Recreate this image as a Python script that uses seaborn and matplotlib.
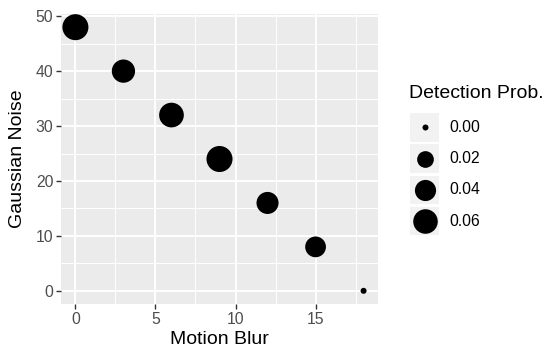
import numpy as np
import pandas as pd
import matplotlib
matplotlib.use("Agg")
import matplotlib.pyplot as plt
import seaborn as sns

motion_blur = [0, 3, 6, 9, 12, 15, 18]
gaussian_noise = [48, 40, 32, 24, 16, 8, 0]
detection_prob = [0.070, 0.052, 0.061, 0.070, 0.045, 0.038, 0.0]
legend_values = [0.00, 0.02, 0.04, 0.06]
legend_labels = ["0.00", "0.02", "0.04", "0.06"]
x_ticks = [0, 5, 10, 15]
y_ticks = [0, 10, 20, 30, 40, 50]

df = pd.DataFrame({"Motion Blur": motion_blur, "Gaussian Noise": gaussian_noise,
                   "Detection Prob.": detection_prob})

sns.set_theme(style="white")
plt.rcParams["font.family"] = ["Liberation Sans", "DejaVu Sans"]

DPI = 100
W, H = 550, 355
PX2PT = 72.0 / DPI
TITLE_FS = 14
TEXT_FS = 11.3


def area(v):
    # ggplot-like area scaling: diameter grows with sqrt(value)
    d_px = 6.0 + 75.7 * np.sqrt(v)
    return (d_px * PX2PT) ** 2


fig = plt.figure(figsize=(W / DPI, H / DPI), dpi=DPI)
L, R, T, B = 61, 378, 14, 304
ax = fig.add_axes([L / W, 1 - B / H, (R - L) / W, (B - T) / H])
ax.set_facecolor("#EBEBEB")

size_map = {v: area(v) for v in df["Detection Prob."].unique()}
sns.scatterplot(data=df, x="Motion Blur", y="Gaussian Noise", size="Detection Prob.",
                sizes=size_map, color="black", linewidth=0, legend=False, ax=ax, zorder=3)

ax.set_xlim(-0.9, 18.9)
ax.set_ylim(-2.4, 50.4)
ax.set_xticks(x_ticks)
ax.set_yticks(y_ticks)
ax.set_xticks([2.5, 7.5, 12.5, 17.5], minor=True)
ax.set_yticks([5, 15, 25, 35, 45], minor=True)
ax.grid(True, which="major", color="white", linewidth=1.4, zorder=0)
ax.grid(True, which="minor", color="white", linewidth=0.7, zorder=0)
ax.set_axisbelow(True)
for s in ax.spines.values():
    s.set_visible(False)
ax.tick_params(axis="both", which="major", length=3.5, width=1.0, color="#333333",
               labelsize=TEXT_FS, labelcolor="#4D4D4D", pad=2, bottom=True, left=True)
ax.tick_params(axis="both", which="minor", length=0)
ax.set_xlabel("Motion Blur", fontsize=TITLE_FS, color="black", va="center")
ax.set_ylabel("Gaussian Noise", fontsize=TITLE_FS, color="black", va="center")
ax.xaxis.set_label_coords(0.5, -(340 - B) / (B - T))
ax.yaxis.set_label_coords(-(L - 18) / (R - L), 0.5)

# legend drawn in pixel coordinates
lax = fig.add_axes([0, 0, 1, 1])
lax.set_xlim(0, W)
lax.set_ylim(H, 0)
lax.axis("off")
lax.text(409, 94, "Detection Prob.", fontsize=TITLE_FS, color="black", va="center", ha="left")
key_top = 113
step = 31.3
for i, (v, lab) in enumerate(zip(legend_values, legend_labels)):
    y0 = key_top + i * step
    lax.add_patch(plt.Rectangle((410, y0), 29, 28.5, facecolor="#F2F2F2", edgecolor="none"))
    cy = y0 + 14.25
    lax.scatter([424.5], [cy], s=area(v), color="black", linewidth=0)
    lax.text(449, cy, lab, fontsize=TEXT_FS, color="black", va="center", ha="left")

fig.savefig("out.png", dpi=DPI)
